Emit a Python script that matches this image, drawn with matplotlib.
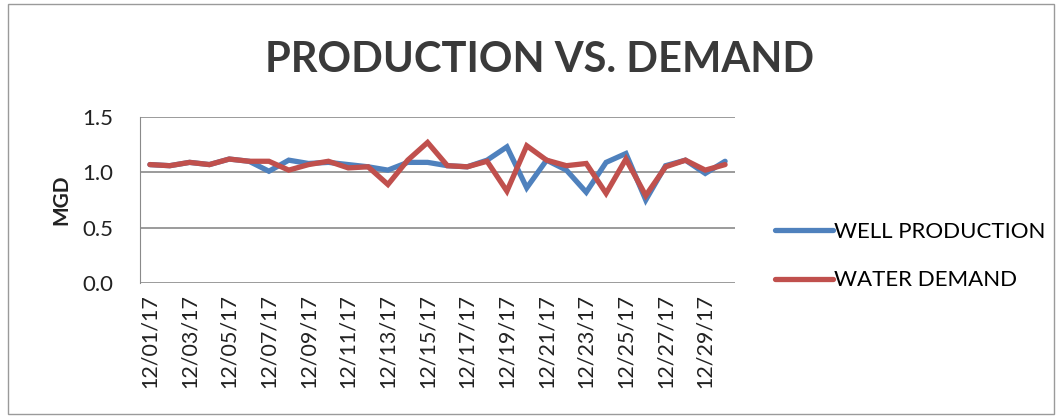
import matplotlib.pyplot as plt
from matplotlib.patches import Rectangle

dates = ["12/%02d/17" % d for d in range(1, 31)]
well_production = [1.07, 1.06, 1.09, 1.07, 1.12, 1.10, 1.01, 1.11, 1.08, 1.09,
                   1.07, 1.05, 1.02, 1.09, 1.09, 1.06, 1.05, 1.11, 1.23, 0.86,
                   1.11, 1.02, 0.82, 1.09, 1.17, 0.75, 1.06, 1.11, 0.99, 1.10]
water_demand = [1.07, 1.06, 1.09, 1.07, 1.12, 1.10, 1.10, 1.02, 1.07, 1.10,
                1.04, 1.05, 0.89, 1.11, 1.27, 1.06, 1.05, 1.10, 0.83, 1.24,
                1.11, 1.06, 1.08, 0.81, 1.12, 0.79, 1.05, 1.11, 1.02, 1.07]
yticks = [0.0, 0.5, 1.0, 1.5]

plt.rcParams['font.family'] = ['Lato', 'DejaVu Sans']

fig = plt.figure(figsize=(10.62, 4.19), dpi=100)
fig.patches.append(Rectangle((8 / 1062, 5 / 419), 1046 / 1062, 410 / 419,
                             transform=fig.transFigure, fill=False,
                             edgecolor='#9a9a9a', linewidth=1.0))

ax = fig.add_axes([140 / 1062, 1 - 283 / 419, 595 / 1062, 166 / 419])
x = list(range(len(dates)))
ax.plot(x, well_production, color='#4F81BD', linewidth=3.8, label='WELL PRODUCTION',
        solid_capstyle='round', solid_joinstyle='miter')
ax.plot(x, water_demand, color='#C0504D', linewidth=3.8, label='WATER DEMAND',
        solid_capstyle='round', solid_joinstyle='miter')

ax.set_xlim(-0.5, len(dates) - 0.5)
ax.set_ylim(0, 1.5)
ax.set_yticks(yticks)
ax.set_yticklabels(["%.1f" % v for v in yticks], fontsize=16, color='#222222')
ax.set_xticks(x[::2])
ax.set_xticklabels(dates[::2], rotation=90, fontsize=15.5, color='#222222')
ax.tick_params(length=0)
ax.tick_params(axis='y', pad=19)
ax.tick_params(axis='x', pad=8)
ax.yaxis.grid(True, color='#8a8a8a', linewidth=1.2)
ax.set_axisbelow(True)
for s in ['top', 'right', 'bottom']:
    ax.spines[s].set_visible(False)
ax.spines['left'].set_color('#8a8a8a')
ax.set_ylabel('MGD', fontsize=15, fontweight='bold', color='#222222', labelpad=8)

fig.text(540 / 1062, 1 - 60 / 419, 'PRODUCTION VS. DEMAND', fontsize=30,
         fontweight='bold', color='#3a3a3a', ha='center', va='center')

ax.legend(loc='center left', bbox_to_anchor=(755 / 1062, 1 - 256 / 419),
          bbox_transform=fig.transFigure, frameon=False, fontsize=16,
          handlelength=2.6, handletextpad=0.05, labelspacing=1.3)

fig.savefig('out.png', dpi=100)
